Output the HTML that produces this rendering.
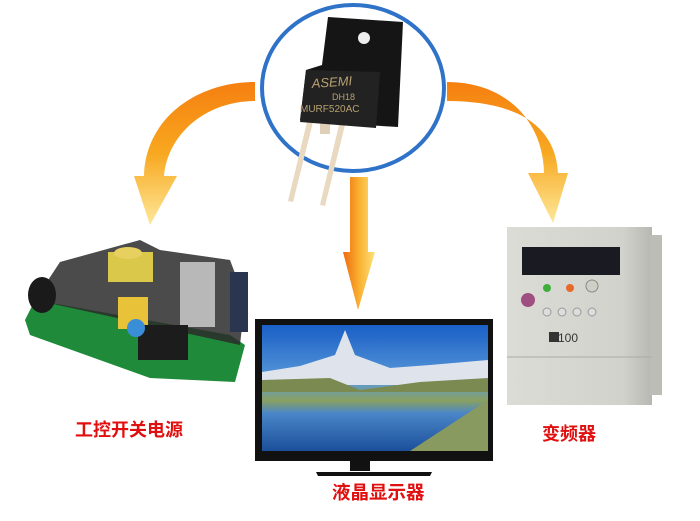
<!DOCTYPE html>
<html><head><meta charset="utf-8"><style>
html,body{margin:0;padding:0;background:#fff;}
svg{display:block}
text{font-family:"Liberation Sans","Noto Sans CJK SC",sans-serif;}
</style></head><body>
<svg width="700" height="521" viewBox="0 0 700 521" xmlns="http://www.w3.org/2000/svg">
<defs>
<linearGradient id="ar" x1="0" y1="0" x2="0" y2="1">
<stop offset="0" stop-color="#f57f10"/><stop offset="0.5" stop-color="#f8a820"/><stop offset="1" stop-color="#fde89a"/>
</linearGradient>
<linearGradient id="arv" x1="0" y1="0" x2="1" y2="0">
<stop offset="0" stop-color="#f06a10"/><stop offset="0.5" stop-color="#f9b030"/><stop offset="1" stop-color="#fce27a"/>
</linearGradient>
<linearGradient id="sky" x1="0" y1="0" x2="0" y2="1">
<stop offset="0" stop-color="#1a5fc6"/><stop offset="0.45" stop-color="#5a9ad8"/><stop offset="0.6" stop-color="#8aa060"/><stop offset="0.7" stop-color="#4a86c8"/><stop offset="1" stop-color="#1b4f9a"/>
</linearGradient>
<linearGradient id="inv" x1="0" y1="0" x2="1" y2="0">
<stop offset="0" stop-color="#dcdcd6"/><stop offset="0.8" stop-color="#d2d2cc"/><stop offset="1" stop-color="#b8b8b2"/>
</linearGradient>
</defs>
<!-- ring -->
<ellipse cx="353" cy="88" rx="91" ry="83" fill="none" stroke="#2f73c8" stroke-width="4"/>
<!-- left arrow -->
<path d="M255 82 C195 82 145 120 144 176 L134 176 L150 225 L177 176 L164 176 C168 132 208 101 255 101 Z" fill="url(#ar)"/>
<!-- right arrow -->
<path d="M447 82 C505 82 543 120 544 173 L528 173 L553 223 L568 173 L558 173 C555 120 508 101 447 101 Z" fill="url(#ar)"/>
<!-- center arrow -->
<path d="M350 177 L368 177 L368 252 L375 252 L358 310 L343 252 L350 252 Z" fill="url(#arv)"/>
<!-- transistor -->
<path d="M307 122 L313 122 L293 202 L288 201 Z" fill="#e8d9c0"/>
<path d="M339 125 L345 125 L325 206 L320 205 Z" fill="#e8d9c0"/>
<rect x="320" y="122" width="10" height="12" fill="#e0d0b8"/>
<path d="M328 17 L403 22 L398 127 L365 125 L300 120 L306 70 L322 65 Z" fill="#151515"/>
<path d="M306 70 L380 72 L376 128 L300 122 Z" fill="#222"/>
<circle cx="364" cy="38" r="6" fill="#eee"/>
<text x="312" y="88" font-size="13" fill="#b8a070" font-style="italic" font-family="Liberation Serif,serif" transform="rotate(-4 312 88)">ASEMI</text>
<text x="332" y="100" font-size="9" fill="#b8a070" font-family="Liberation Serif,serif">DH18</text>
<text x="300" y="112" font-size="10" fill="#b8a070" font-family="Liberation Serif,serif">MURF520AC</text>
<!-- PCB -->
<path d="M25 320 L35 300 L230 335 L245 345 L235 382 L150 378 L30 335 Z" fill="#1e8a3a"/>
<path d="M35 300 L60 262 L140 240 L160 250 L230 260 L245 300 L240 345 Z" fill="#2c2c2c" opacity="0.85"/>
<ellipse cx="42" cy="295" rx="14" ry="18" fill="#1a1a1a"/>
<rect x="108" y="252" width="45" height="30" fill="#d9c84a"/>
<ellipse cx="128" cy="253" rx="14" ry="6" fill="#e8d060"/>
<rect x="118" y="297" width="30" height="32" fill="#e8c33a"/>
<rect x="180" y="262" width="35" height="65" fill="#b8b8b8"/>
<rect x="230" y="272" width="18" height="60" fill="#2a3550"/>
<rect x="138" y="325" width="50" height="35" fill="#1c1c1c"/>
<circle cx="136" cy="328" r="9" fill="#3a8ed8"/>
<!-- TV -->
<rect x="255" y="319" width="238" height="142" fill="#111"/>
<rect x="262" y="325" width="226" height="126" fill="url(#sky)"/>
<path d="M262 372 L300 366 L335 355 L345 330 L355 355 L390 368 L430 365 L488 360 L488 385 L262 385 Z" fill="#dfe4ec"/>
<path d="M262 380 L330 378 L360 390 L420 382 L488 378 L488 392 L262 392 Z" fill="#7a8a50"/>
<path d="M410 451 L488 400 L488 451 Z" fill="#889a60"/>
<rect x="350" y="461" width="20" height="10" fill="#111"/>
<path d="M316 472 L432 472 L430 476 L318 476 Z" fill="#111"/>
<!-- inverter -->
<rect x="507" y="227" width="145" height="178" fill="url(#inv)"/>
<rect x="650" y="235" width="12" height="160" fill="#bdbdb7"/>
<rect x="522" y="247" width="98" height="28" fill="#1a1a22"/>
<circle cx="547" cy="288" r="4" fill="#3fae3a"/>
<circle cx="570" cy="288" r="4" fill="#e76a2a"/>
<circle cx="592" cy="286" r="6" fill="#cfcfc5" stroke="#888"/>
<circle cx="528" cy="300" r="7" fill="#a05080"/>
<circle cx="547" cy="312" r="4" fill="#ddd" stroke="#999"/><circle cx="562" cy="312" r="4" fill="#ddd" stroke="#999"/><circle cx="577" cy="312" r="4" fill="#ddd" stroke="#999"/><circle cx="592" cy="312" r="4" fill="#ddd" stroke="#999"/>
<rect x="549" y="332" width="10" height="10" fill="#333"/>
<text x="558" y="342" font-size="12" fill="#333">100</text>
<line x1="507" y1="357" x2="652" y2="357" stroke="#aaa"/>
<!-- labels -->
<text x="75" y="436" font-size="18" font-weight="bold" fill="#e01010">工控开关电源</text>
<text x="332" y="499" font-size="18.5" font-weight="bold" fill="#e01010">液晶显示器</text>
<text x="542" y="440" font-size="18" font-weight="bold" fill="#e01010">变频器</text>
</svg>
</body></html>
